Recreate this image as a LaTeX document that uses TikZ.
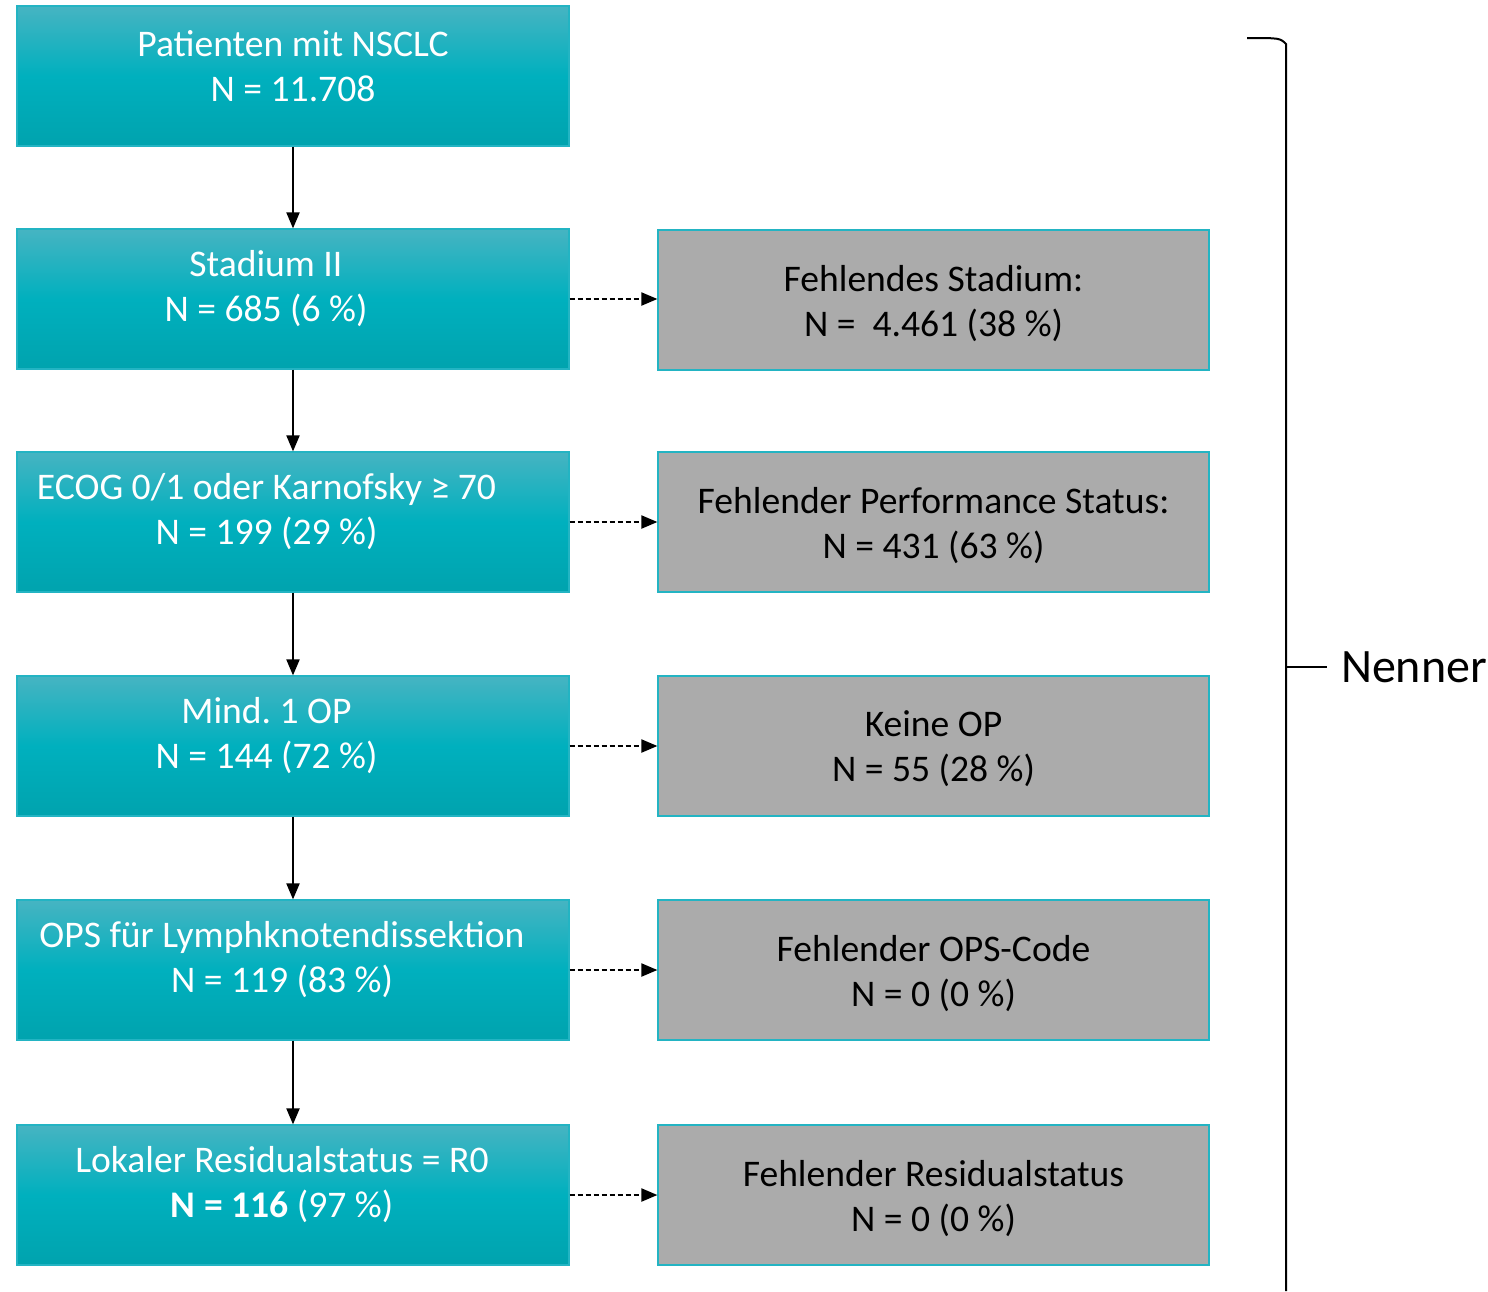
\documentclass[tikz,border=0pt]{standalone}
\usepackage{fontspec}
\setmainfont{Carlito}
\usepackage{tikz}
\usetikzlibrary{calc,arrows.meta}

\definecolor{tealtop}{RGB}{70,180,194}
\definecolor{tealmid}{RGB}{0,176,190}
\definecolor{tealbot}{RGB}{0,163,174}
\definecolor{tealline}{RGB}{35,180,195}
\definecolor{greyfill}{RGB}{171,171,171}

\tikzset{
 flowbox/.style={draw=tealline,line width=0.6pt,top color=tealtop,bottom color=tealbot,middle color=tealmid,
  minimum width=276pt,minimum height=70pt,inner sep=0pt},
 flowtext/.style={text=white,align=center,inner sep=0pt,font=\fontsize{18.8}{22.5}\selectfont},
 dropbox/.style={draw=tealline,line width=0.6pt,fill=greyfill,minimum width=275.5pt,minimum height=70pt,
  inner sep=0pt,align=center,font=\fontsize{18.8}{22.5}\selectfont},
 droptext/.style={align=center,inner sep=0pt,font=\fontsize{18.8}{22.5}\selectfont},
 flowarrow/.style={line width=1pt,-{Triangle[length=8pt,width=6.5pt]}},
}

\begin{document}
\frenchspacing
\begin{tikzpicture}
% one unit is one pixel of the 1488x1291 sheet, y runs downwards
[x=0.5pt,y=-0.5pt,line width=1pt]
\useasboundingbox (0,0) rectangle (1488,1291);
%The main column:
\node[flowbox] (b1) at (293,76) {};
\node[flowbox] (b2) at (293,299) {};
\node[flowbox] (b3) at (293,522) {};
\node[flowbox] (b4) at (293,746) {};
\node[flowbox] (b5) at (293,970) {};
\node[flowbox] (b6) at (293,1195) {};
\node[flowtext] (t1) at (293,66) {Patienten mit NSCLC\\N = 11.708};
\node[flowtext] (t2) at (266,289) {Stadium II\\N = 685 (6 \%)};
\node[flowtext] (t3) at (266.5,512) {ECOG 0/1 oder Karnofsky ≥ 70\\N = 199 (29 \%)};
\node[flowtext] (t4) at (266.5,736) {Mind. 1 OP\\N = 144 (72 \%)};
\node[flowtext] (t5) at (282,960) {OPS für Lymphknotendissektion\\N = 119 (83 \%)};
\node[flowtext] (t6) at (282,1185) {Lokaler Residualstatus = R0\\\textbf{N = 116} (97 \%)};
%Dropped patients:
\node[dropbox] (f2) at (933.5,300) {};
\node[dropbox] (f3) at (933.5,522) {};
\node[dropbox] (f4) at (933.5,746) {};
\node[dropbox] (f5) at (933.5,970) {};
\node[dropbox] (f6) at (933.5,1195) {};
\node[droptext] (d2) at (933.5,303.5) {Fehlendes Stadium:\\N = \ 4.461 (38 \%)};
\node[droptext] (d3) at (933.5,525.5) {Fehlender Performance Status:\\N = 431 (63 \%)};
\node[droptext] (d4) at (933.5,749) {Keine OP\\N = 55 (28 \%)};
\node[droptext] (d5) at (933.5,973.5) {Fehlender OPS-Code\\N = 0 (0 \%)};
\node[droptext] (d6) at (933.5,1198.5) {Fehlender Residualstatus\\N = 0 (0 \%)};
%Arrows:
\foreach \i/\j in {1/2,2/3,3/4,4/5,5/6}
 \draw[flowarrow] (b\i) -- (b\j);
\foreach \i in {2,...,6}
 \draw[flowarrow,dash pattern=on 2.5pt off 1.5pt] (b\i.east) -- (b\i.east -| f\i.west);
%The bracket:
\coordinate (bt) at (1247,38);
\coordinate (bb) at (1286,1291);
\coordinate (bm) at (1286,667);
\node[anchor=west,inner xsep=6.5pt,inner ysep=0pt,font=\fontsize{24}{28}\selectfont] (nenner) at (1327,667) {Nenner};
\draw (bt) .. controls (1280,38) .. (1286,44) -- (bb);
\draw (bm) -- (nenner.west);
\end{tikzpicture}
\end{document}
